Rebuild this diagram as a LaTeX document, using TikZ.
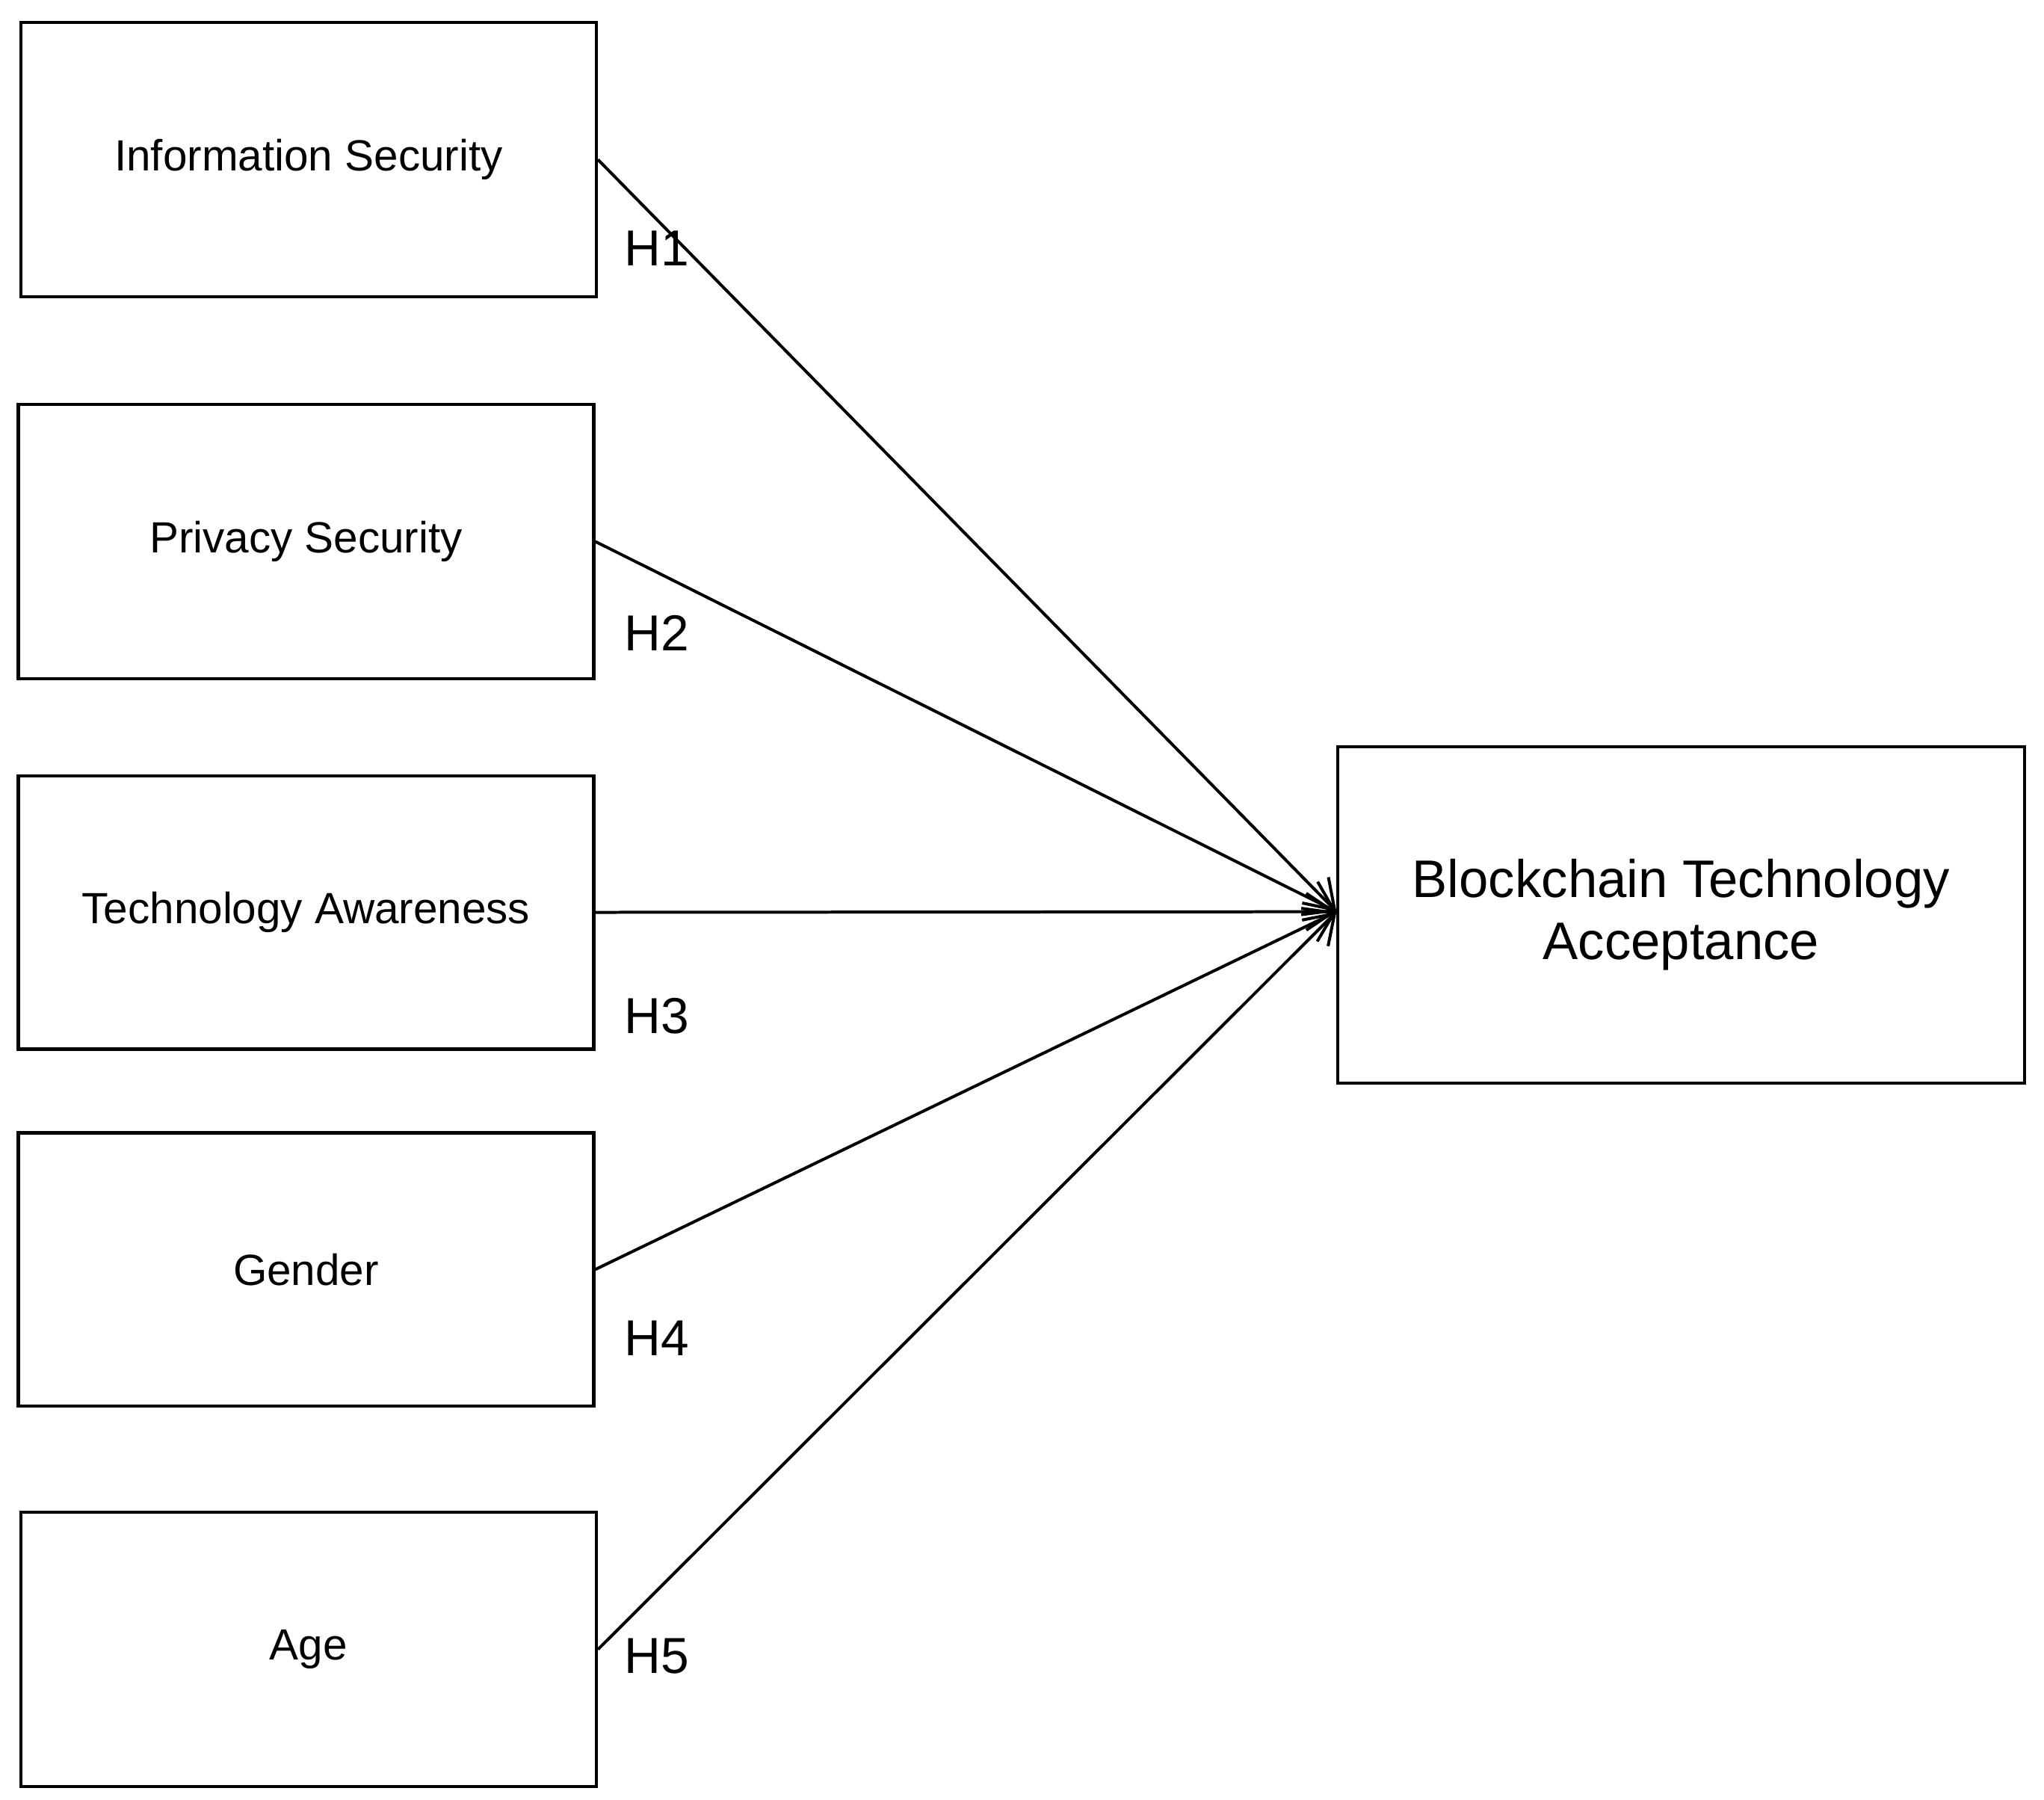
\documentclass[tikz,border=0pt]{standalone}
\usepackage{fontspec}
\setmainfont{Liberation Sans}
\usetikzlibrary{arrows.meta}
\begin{document}
\begin{tikzpicture}[x=0.02cm,y=-0.02cm,
  box/.style={draw,line width=1.4pt,inner sep=0pt,font=\fontsize{19}{22}\selectfont},
  lab/.style={font=\fontsize{22}{25}\selectfont},
  arr/.style={line width=1.3pt,-{Straight Barb[length=12pt,width=16pt]}}]
\useasboundingbox (0,0) rectangle (1563,1376);
\node[box,minimum width=440*0.02cm,minimum height=210*0.02cm] (is) at (236,122) {Information Security};
\node[box,minimum width=440*0.02cm,minimum height=210*0.02cm] (ps) at (234,414) {Privacy Security};
\node[box,minimum width=440*0.02cm,minimum height=209*0.02cm] (ta) at (234,697.5) {Technology Awareness};
\node[box,minimum width=440*0.02cm,minimum height=209*0.02cm] (ge) at (234,970.5) {Gender};
\node[box,minimum width=440*0.02cm,minimum height=210*0.02cm] (ag) at (236,1261) {Age};
\node[box,minimum width=525*0.02cm,minimum height=257*0.02cm,align=center,font=\fontsize{23}{27}\selectfont] (bt) at (1285.5,699.5) {Blockchain Technology\\Acceptance};
\coordinate (t) at (1022,697);
\draw[arr] (is.east) -- (t);
\draw[arr] (ps.east) -- (t);
\draw[arr] (ta.east) -- (t);
\draw[arr] (ge.east) -- (t);
\draw[arr] (ag.east) -- (t);
\node[lab] (h1) at (502,190) {H1};
\node[lab] (h2) at (502,484) {H2};
\node[lab] (h3) at (502,777) {H3};
\node[lab] (h4) at (502,1023) {H4};
\node[lab] (h5) at (502,1266) {H5};
\end{tikzpicture}
\end{document}
